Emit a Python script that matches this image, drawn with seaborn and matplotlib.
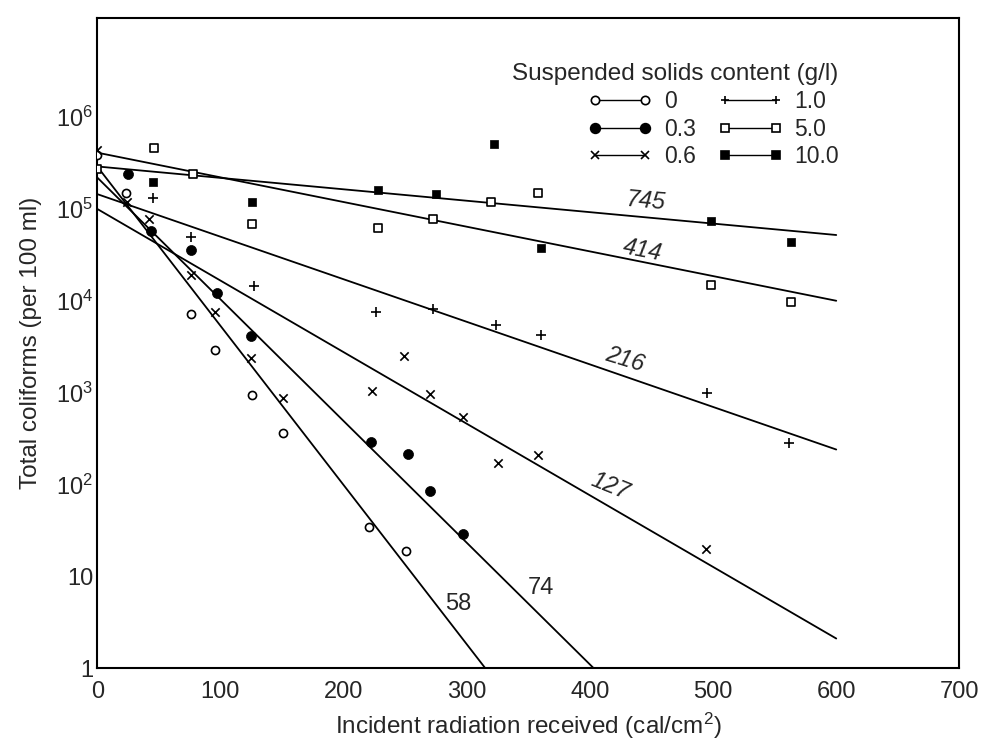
import matplotlib
matplotlib.use("Agg")
import matplotlib.pyplot as plt
from matplotlib.lines import Line2D
import seaborn as sns

# suspended solids content (g/l) and the measured coliform counts
solids = ["0", "0.3", "0.6", "1.0", "5.0", "10.0"]

rad_0 = [0, 23, 76, 96, 126, 151, 221, 251]
col_0 = [3.9e5, 1.5e5, 7.2e3, 2.9e3, 930, 360, 34, 19]

rad_03 = [25, 44, 76, 97, 125, 222, 252, 270, 297]
col_03 = [2.4e5, 5.8e4, 3.6e4, 1.2e4, 4.1e3, 290, 212, 85, 29]

rad_06 = [0, 24, 42, 76, 96, 125, 151, 223, 249, 270, 297, 325, 358, 494]
col_06 = [4.4e5, 1.2e5, 7.8e4, 1.9e4, 7.6e3, 2.4e3, 870, 1.05e3, 2.5e3, 970, 540, 170, 208, 20]

rad_1 = [45, 76, 127, 226, 273, 324, 360, 495, 562]
col_1 = [1.3e5, 4.9e4, 1.45e4, 7.6e3, 8.2e3, 5.5e3, 4.2e3, 1.0e3, 280]

rad_5 = [0, 46, 78, 126, 228, 273, 320, 358, 498, 563]
col_5 = [2.7e5, 4.6e5, 2.4e5, 6.9e4, 6.2e4, 7.8e4, 1.2e5, 1.5e5, 1.5e4, 9.8e3]

rad_10 = [45, 126, 228, 275, 322, 360, 498, 563]
col_10 = [1.94e5, 1.2e5, 1.6e5, 1.45e5, 5.1e5, 3.8e4, 7.3e4, 4.4e4]

# fitted decay lines, labelled with the radiation for a 90% reduction
line_s = ["58", "74", "127", "216", "414", "745"]
line_x_end = [315, 403, 600, 600, 600, 600]
line_y_start = [2.9e5, 2.2e5, 1.0e5, 1.45e5, 4.1e5, 2.9e5]
line_y_end = [1, 1, 2.1, 240, 1.0e4, 5.2e4]

x_ticks = [0, 100, 200, 300, 400, 500, 600, 700]
y_ticks = [1, 10, 1e2, 1e3, 1e4, 1e5, 1e6]
y_tick_labels = ["1", "10", r"$\mathregular{10^2}$", r"$\mathregular{10^3}$",
                 r"$\mathregular{10^4}$", r"$\mathregular{10^5}$", r"$\mathregular{10^6}$"]

sns.set_style("white")
plt.rcParams["font.family"] = ["Liberation Sans", "DejaVu Sans"]
plt.rcParams["mathtext.fontset"] = "custom"
plt.rcParams["mathtext.rm"] = "Liberation Sans"

fig, ax = plt.subplots(figsize=(9.82, 7.49), dpi=100)
fig.subplots_adjust(left=0.099, right=0.977, bottom=0.108, top=0.976)

for xe, ys, ye in zip(line_x_end, line_y_start, line_y_end):
    sns.lineplot(x=[0, xe], y=[ys, ye], color="black", lw=1.3, ax=ax)

styles = {
    "0": dict(marker="o", s=34, color="k", facecolor="white", edgecolor="k", linewidth=1.2),
    "0.3": dict(marker="o", s=52, color="k", facecolor="k", edgecolor="k", linewidth=0.5),
    "0.6": dict(marker="x", s=36, color="k", linewidth=1.2),
    "1.0": dict(marker="+", s=55, color="k", linewidth=1.2),
    "5.0": dict(marker="s", s=34, color="k", facecolor="white", edgecolor="k", linewidth=1.2),
    "10.0": dict(marker="s", s=36, color="k", facecolor="k", edgecolor="k", linewidth=0.5),
}
series = {
    "0": (rad_0, col_0),
    "0.3": (rad_03, col_03),
    "0.6": (rad_06, col_06),
    "1.0": (rad_1, col_1),
    "5.0": (rad_5, col_5),
    "10.0": (rad_10, col_10),
}
for name in solids:
    xs, ys = series[name]
    sns.scatterplot(x=xs, y=ys, ax=ax, zorder=3, legend=False, **styles[name])

ax.set_yscale("log")
ax.set_xlim(0, 700)
ax.set_ylim(1, 1.2e7)
ax.set_xticks(x_ticks)
ax.set_xticklabels([str(t) for t in x_ticks])
ax.set_yticks(y_ticks)
ax.set_yticklabels(y_tick_labels)
ax.minorticks_off()
ax.tick_params(direction="in", length=7, width=1.2, labelsize=17)
ax.tick_params(axis="x", pad=9)
ax.tick_params(axis="y", pad=3)
for sp in ax.spines.values():
    sp.set_linewidth(1.5)
    sp.set_color("black")

ax.set_xlabel("Incident radiation received (cal/cm$\\mathregular{^2}$)", fontsize=17.5, labelpad=6)
ax.set_ylabel("Total coliforms (per 100 ml)", fontsize=17.5, labelpad=10)

# line labels
ax.text(445, 1.2e5, "745", fontsize=17, rotation=-5, ha="center", va="center", style="italic")
ax.text(443, 3.5e4, "414", fontsize=17, rotation=-11, ha="center", va="center", style="italic")
ax.text(428, 2.3e3, "216", fontsize=17, rotation=-17, ha="center", va="center", style="italic")
ax.text(416, 95, "127", fontsize=17, rotation=-22, ha="center", va="center", style="italic")
ax.text(293, 5.0, "58", fontsize=17, ha="center", va="center")
ax.text(360, 7.4, "74", fontsize=17, ha="center", va="center")

handles = []
for name in solids:
    st = styles[name]
    fc = st.get("facecolor", "k")
    handles.append(Line2D([], [], color="k", lw=1.0, marker=st["marker"],
                          markerfacecolor=fc, markeredgecolor="k",
                          markersize=6 if st["marker"] != "o" or fc == "white" else 7,
                          markeredgewidth=1.2))
leg = ax.legend(handles, solids, title="Suspended solids content (g/l)", ncol=2,
                numpoints=2, handlelength=2.8, columnspacing=1.0, handletextpad=0.5,
                labelspacing=0.2, frameon=False, fontsize=16.5, title_fontsize=17.5,
                borderpad=0, borderaxespad=0,
                loc="upper right", bbox_to_anchor=(0.86, 0.93))
leg._legend_box.align = "right"

fig.savefig("out.png", dpi=100)
